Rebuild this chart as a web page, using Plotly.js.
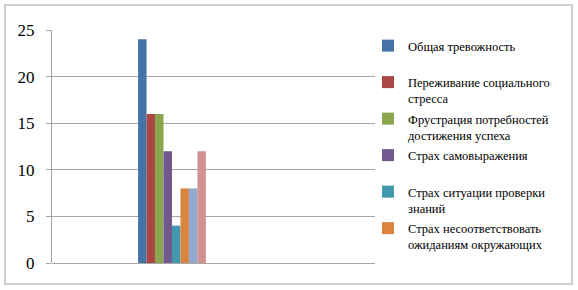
<!DOCTYPE html>
<html>
<head>
<meta charset="utf-8">
<script src="https://cdn.plot.ly/plotly-3.0.1.min.js"></script>
<style>html,body{margin:0;padding:0;background:#fff;}#chart{width:578px;height:290px;}</style>
</head>
<body>
<div id="chart"></div>
<script>
const categories = ['1'];
const seriesNames = [
  'Общая тревожность<br>\u00a0',
  'Переживание социального<br>стресса',
  'Фрустрация потребностей<br>достижения успеха',
  'Страх самовыражения<br>\u00a0',
  'Страх ситуации проверки<br>знаний',
  'Страх несоответствовать<br>ожиданиям окружающих',
  'Низкая физиологическая<br>сопротивляемость стрессу',
  'Проблемы и страхи в<br>отношениях с учителями'
];
const seriesValues = [[24], [16], [16], [12], [4], [8], [8], [12]];
const seriesInLegend = [true, true, true, true, true, true, false, false];
const colors = ['#4572A7', '#AA4643', '#89A54E', '#71588F', '#4198AF', '#DB843D', '#93A9CF', '#D19392'];
const yTicks = [0, 5, 10, 15, 20, 25];

const SERIF = 'Liberation Serif';
const L = 52, R = 375, T = 30, B = 263, W = 578, H = 290;
const pw = R - L, ph = B - T;
const px = v => (v - L) / pw;
const py = v => (B - v) / ph;

const traces = seriesNames.map((n, i) => ({
  type: 'bar',
  x: categories,
  y: seriesValues[i],
  name: n,
  legendgroup: 'g' + i,
  showlegend: seriesInLegend[i],
  marker: {color: colors[i], line: {width: 0}}
}));

const layout = {
  width: W, height: H,
  margin: {l: L, r: W - R, t: T, b: H - B, pad: 0},
  paper_bgcolor: '#ffffff',
  plot_bgcolor: '#ffffff',
  barmode: 'group',
  bargap: 0.79,
  bargroupgap: 0,
  showlegend: true,
  font: {family: SERIF, color: '#000'},
  xaxis: {
    type: 'category',
    range: [-0.3715, 0.6285],
    showticklabels: false,
    ticks: '',
    showgrid: false,
    showline: false,
    zeroline: false,
    fixedrange: true
  },
  yaxis: {
    range: [0, 25],
    tickvals: yTicks,
    ticktext: yTicks.map(String),
    ticks: 'outside',
    ticklen: 5,
    tickcolor: '#a6a6a6',
    ticklabelstandoff: 8,
    tickfont: {family: SERIF, size: 17, color: '#000'},
    showgrid: true,
    gridcolor: '#a6a6a6',
    gridwidth: 1,
    showline: true,
    linecolor: '#a6a6a6',
    zeroline: true,
    zerolinecolor: '#a6a6a6',
    fixedrange: true
  },
  legend: {
    x: px(368), y: py(31),
    xanchor: 'left', yanchor: 'top',
    valign: 'top',
    tracegroupgap: 1,
    bgcolor: 'rgba(0,0,0,0)',
    font: {family: SERIF, size: 12.5, color: '#000'}
  },
  shapes: [{
    type: 'rect', xref: 'paper', yref: 'paper',
    x0: px(5), x1: px(572), y0: py(284), y1: py(5),
    line: {color: '#bfbfbf', width: 1.5},
    fillcolor: 'rgba(0,0,0,0)',
    layer: 'below'
  }]
};

Plotly.newPlot('chart', traces, layout, {displayModeBar: false, staticPlot: true});
</script>
</body>
</html>
